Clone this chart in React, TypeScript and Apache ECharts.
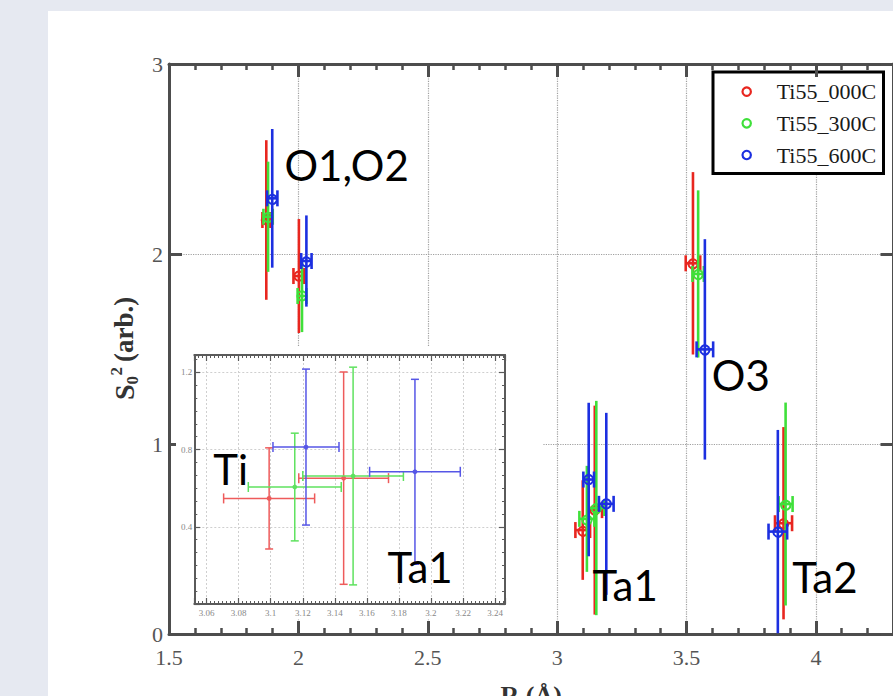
import React, { useEffect, useRef } from "react";
import * as echarts from "echarts";

// ---------------- data ----------------
const seriesNames = ["Ti55_000C", "Ti55_300C", "Ti55_600C"];
const shells = ["O1", "O2", "Ti", "Ta1", "O3", "Ta2"];

const r000 = [1.876, 2.002, 3.099, 3.1455, 3.525, 3.875];
const s000 = [2.179, 1.884, 0.547, 0.652, 1.951, 0.583];
const dr000 = [0.015, 0.021, 0.0284, 0.028, 0.028, 0.033];
const ds000 = [0.42, 0.3, 0.262, 0.55, 0.48, 0.506];

const r300 = [1.883, 2.014, 3.115, 3.1514, 3.545, 3.883];
const s300 = [2.196, 1.779, 0.606, 0.663, 1.895, 0.684];
const dr300 = [0.018, 0.017, 0.029, 0.0314, 0.022, 0.027];
const ds300 = [0.29, 0.19, 0.279, 0.564, 0.44, 0.534];

const r600 = [1.899, 2.031, 3.122, 3.19, 3.571, 3.853];
const s600 = [2.293, 1.963, 0.813, 0.685, 1.498, 0.539];
const dr600 = [0.02, 0.02, 0.0206, 0.0283, 0.032, 0.036];
const ds600 = [0.365, 0.24, 0.404, 0.479, 0.58, 0.535];

const insetShells = ["Ti", "Ta1"];

// axis ranges
const mainXRange = [1.5, 4.3];
const mainXInterval = 0.5;
const mainYRange = [0, 3];
const mainYInterval = 1;
const insetXRange = [3.0523, 3.2462];
const insetYRange = [0, 1.29];
const insetYInterval = 0.4;

// annotations (data coordinates)
const mainLabelText = ["O1,O2", "O3", "Ta1", "Ta2"];
const mainLabelR = [1.946, 3.598, 3.137, 3.909];
const mainLabelS = [2.468, 1.363, 0.259, 0.299];
const insetLabelText = ["Ti", "Ta1"];
const insetLabelR = [3.0641, 3.1728];
const insetLabelS = [0.7005, 0.19];

// ---------------- styles ----------------
const mainColors = ["#e8261f", "#3fe03a", "#1c2fe0"];
const insetColors = ["#ee5b5b", "#5fe25f", "#5656e6"];
const axisColor = "#4d4d4d";
const serif = "'Liberation Serif', 'Times New Roman', serif";

const allR = [r000, r300, r600];
const allS = [s000, s300, s600];
const allDR = [dr000, dr300, dr600];
const allDS = [ds000, ds300, ds600];

function rows(k: number, only?: string[]) {
  const out: number[][] = [];
  shells.forEach((sh, i) => {
    if (!only || only.includes(sh)) out.push([allR[k][i], allS[k][i], allDR[k][i], allDS[k][i]]);
  });
  return out;
}

const mainErr = (color: string) => (params: any, api: any) => {
  const x = api.value(0), y = api.value(1), dx = api.value(2), dy = api.value(3);
  const c = api.coord([x, y]);
  const t = api.coord([x, y + dy]);
  const b = api.coord([x, y - dy]);
  const l = api.coord([x - dx, y]);
  const r = api.coord([x + dx, y]);
  const cap = 8;
  const ls = { stroke: color, lineWidth: 2.6, fill: "none" };
  return {
    type: "group",
    children: [
      { type: "line", shape: { x1: c[0], y1: t[1], x2: c[0], y2: b[1] }, style: ls },
      { type: "line", shape: { x1: l[0], y1: c[1], x2: r[0], y2: c[1] }, style: ls },
      { type: "line", shape: { x1: l[0], y1: c[1] - cap, x2: l[0], y2: c[1] + cap }, style: ls },
      { type: "line", shape: { x1: r[0], y1: c[1] - cap, x2: r[0], y2: c[1] + cap }, style: ls },
      { type: "circle", shape: { cx: c[0], cy: c[1], r: 4.6 }, style: { fill: "none", stroke: color, lineWidth: 2 } },
    ],
  };
};

const insetErr = (color: string) => (params: any, api: any) => {
  const x = api.value(0), y = api.value(1), dx = api.value(2), dy = api.value(3);
  const c = api.coord([x, y]);
  const t = api.coord([x, y + dy]);
  const b = api.coord([x, y - dy]);
  const l = api.coord([x - dx, y]);
  const r = api.coord([x + dx, y]);
  const capV = 4;
  const capH = 5;
  const ls = { stroke: color, lineWidth: 1.5, fill: "none" };
  return {
    type: "group",
    children: [
      { type: "line", shape: { x1: c[0], y1: t[1], x2: c[0], y2: b[1] }, style: ls },
      { type: "line", shape: { x1: c[0] - capV, y1: t[1], x2: c[0] + capV, y2: t[1] }, style: ls },
      { type: "line", shape: { x1: c[0] - capV, y1: b[1], x2: c[0] + capV, y2: b[1] }, style: ls },
      { type: "line", shape: { x1: l[0], y1: c[1], x2: r[0], y2: c[1] }, style: ls },
      { type: "line", shape: { x1: l[0], y1: c[1] - capH, x2: l[0], y2: c[1] + capH }, style: ls },
      { type: "line", shape: { x1: r[0], y1: c[1] - capH, x2: r[0], y2: c[1] + capH }, style: ls },
      { type: "circle", shape: { cx: c[0], cy: c[1], r: 2.4 }, style: { fill: color, stroke: "none" } },
    ],
  };
};

function mainXAxis(pos: "bottom" | "top") {
  const bottom = pos === "bottom";
  return {
    type: "value",
    gridIndex: 0,
    position: pos,
    min: mainXRange[0],
    max: mainXRange[1],
    interval: mainXInterval,
    axisLine: { show: true, onZero: false, lineStyle: { color: axisColor, width: 3 } },
    axisTick: { show: true, inside: true, length: 13, lineStyle: { color: axisColor, width: 3 } },
    minorTick: { show: true, splitNumber: 5, length: 6, lineStyle: { color: axisColor, width: 2.5 } },
    axisLabel: bottom
      ? { show: true, margin: 12.5, fontFamily: serif, fontSize: 22, color: "#555", showMaxLabel: false }
      : { show: false },
    splitLine: bottom ? { show: true, lineStyle: { color: "#a0a0a0", type: "dotted", width: 1.2 } } : { show: false },
    name: bottom ? "R (Å)" : "",
    nameLocation: "middle",
    nameGap: 48,
    nameTextStyle: { fontFamily: serif, fontWeight: "bold", fontSize: 26, color: "#333" },
  };
}

function mainYAxis(pos: "left" | "right") {
  const left = pos === "left";
  return {
    type: "value",
    gridIndex: 0,
    position: pos,
    min: mainYRange[0],
    max: mainYRange[1],
    interval: mainYInterval,
    axisLine: { show: true, onZero: false, lineStyle: { color: axisColor, width: 3 } },
    axisTick: { show: true, inside: true, length: 13, lineStyle: { color: axisColor, width: 3 } },
    minorTick: { show: false },
    axisLabel: left ? { show: true, margin: 6, fontFamily: serif, fontSize: 22, color: "#555" } : { show: false },
    splitLine: left ? { show: true, lineStyle: { color: "#a0a0a0", type: "dotted", width: 1.2 } } : { show: false },
  };
}

const insetAxisColor = "#5a5a5a";
function insetXAxis(pos: "bottom" | "top") {
  const bottom = pos === "bottom";
  return {
    type: "value",
    gridIndex: 1,
    position: pos,
    z: 5,
    min: insetXRange[0],
    max: insetXRange[1],
    splitNumber: 10,
    axisLine: { show: true, onZero: false, lineStyle: { color: insetAxisColor, width: 2 } },
    axisTick: { show: true, inside: true, length: 6, lineStyle: { color: insetAxisColor, width: 1.2 } },
    minorTick: { show: true, splitNumber: 8, length: 3, lineStyle: { color: insetAxisColor, width: 1 } },
    axisLabel: bottom
      ? { show: true, margin: 4, fontFamily: serif, fontSize: 9, color: "#888", showMinLabel: false, showMaxLabel: false }
      : { show: false },
    splitLine: bottom ? { show: true, lineStyle: { color: "#cfcfcf", type: [2, 2], width: 1 } } : { show: false },
  };
}

function insetYAxis(pos: "left" | "right") {
  const left = pos === "left";
  return {
    type: "value",
    gridIndex: 1,
    position: pos,
    z: 5,
    min: insetYRange[0],
    max: insetYRange[1],
    interval: insetYInterval,
    axisLine: { show: true, onZero: false, lineStyle: { color: insetAxisColor, width: 2 } },
    axisTick: { show: true, inside: true, length: 6, lineStyle: { color: insetAxisColor, width: 1.2 } },
    minorTick: { show: true, splitNumber: 6, length: 3, lineStyle: { color: insetAxisColor, width: 1 } },
    axisLabel: left
      ? { show: true, margin: 2, fontFamily: serif, fontSize: 9, color: "#888", showMinLabel: false, showMaxLabel: false }
      : { show: false },
    splitLine: left ? { show: true, lineStyle: { color: "#cfcfcf", type: [2, 2], width: 1 } } : { show: false },
  };
}

// legend box drawn as graphic (serif text, hollow circle markers)
function legendBox(
  id: string,
  box: { x: number; y: number; w: number; h: number; lw: number },
  markerX: number,
  textX: number,
  rowY: number[],
  markerR: number,
  markerLW: number,
  fontSize: number,
  colors: string[],
  z: number
) {
  const children: any[] = [
    {
      type: "rect",
      shape: { x: box.x, y: box.y, width: box.w, height: box.h },
      style: { fill: "#ffffff", stroke: "#000000", lineWidth: box.lw },
    },
  ];
  seriesNames.forEach((n, k) => {
    children.push({
      type: "circle",
      shape: { cx: markerX, cy: rowY[k], r: markerR },
      style: { fill: "none", stroke: colors[k], lineWidth: markerLW },
    });
    children.push({
      type: "text",
      x: textX,
      y: rowY[k],
      style: { text: n, fontFamily: serif, fontSize, fill: "#1a1a1a", align: "left", verticalAlign: "middle" },
    });
  });
  return { type: "group", id, z, children };
}

export default function App() {
  const ref = useRef<HTMLDivElement>(null);

  useEffect(() => {
    if (!ref.current) return;
    const chart = echarts.init(ref.current, undefined, { renderer: "svg", width: 893, height: 696 });

    const option: any = {
      animation: false,
      backgroundColor: "#ffffff",
      grid: [
        { left: 169, top: 64, width: 724.5, height: 570, show: false, outerBoundsMode: "none", containLabel: false },
        { left: 194.3, top: 355, width: 310.7, height: 249, show: false, outerBoundsMode: "none", containLabel: false },
      ],
      xAxis: [mainXAxis("bottom"), mainXAxis("top"), insetXAxis("bottom"), insetXAxis("top")],
      yAxis: [mainYAxis("left"), mainYAxis("right"), insetYAxis("left"), insetYAxis("right")],
      series: [
        ...seriesNames.map((name, k) => ({
          type: "custom",
          name,
          xAxisIndex: 0,
          yAxisIndex: 0,
          z: 2,
          clip: false,
          encode: { x: 0, y: 1 },
          data: rows(k),
          renderItem: mainErr(mainColors[k]),
        })),
        ...seriesNames.map((name, k) => ({
          type: "custom",
          name,
          xAxisIndex: 2,
          yAxisIndex: 2,
          z: 6,
          clip: false,
          encode: { x: 0, y: 1 },
          data: rows(k, insetShells),
          renderItem: insetErr(insetColors[k]),
        })),
      ],
    };

    chart.setOption(option);

    const labelStyle = (t: string) => ({
      text: t,
      fontFamily: "Lato",
      fontSize: 42,
      fill: "#000000",
      align: "left",
      verticalAlign: "middle",
    });

    const mainLabels = mainLabelText.map((t, i) => {
      const p = chart.convertToPixel({ seriesIndex: 0 }, [mainLabelR[i], mainLabelS[i]]) as number[];
      return { type: "text", x: p[0], y: p[1], z: 10, style: labelStyle(t) };
    });
    const insetLabels = insetLabelText.map((t, i) => {
      const p = chart.convertToPixel({ seriesIndex: 3 }, [insetLabelR[i], insetLabelS[i]]) as number[];
      return { type: "text", x: p[0], y: p[1], z: 10, style: labelStyle(t) };
    });

    const titleFont = (size: number) => ({
      fontFamily: serif,
      fontWeight: "bold",
      fontSize: size,
      fill: "#333",
      align: "left",
      verticalAlign: "middle",
    });

    chart.setOption({
      graphic: [
        { type: "rect", id: "bgTop", z: 0, shape: { x: 0, y: 0, width: 893, height: 11 }, style: { fill: "#e6e9f1" } },
        { type: "rect", id: "bgLeft", z: 0, shape: { x: 0, y: 0, width: 48, height: 696 }, style: { fill: "#e6e9f1" } },
        { type: "rect", id: "insetBg", z: 3, shape: { x: 176, y: 347, width: 367, height: 272 }, style: { fill: "#ffffff" } },
        legendBox("mainLegend", { x: 713, y: 72, w: 170.5, h: 101.5, lw: 3 }, 746.7, 776.7, [91.7, 123.3, 155], 4.2, 2.2, 22, mainColors, 8),
        legendBox("insetLegend", { x: 426.7, y: 358, w: 76, h: 46, lw: 1.5 }, 442.3, 454, [367, 381.5, 396], 1.9, 1, 9.5, insetColors, 8),
        {
          type: "group",
          id: "yTitle",
          x: 124,
          y: 400,
          rotation: Math.PI / 2,
          z: 10,
          children: [
            { type: "text", x: 0, y: 0, style: { text: "S", ...titleFont(28) } },
            { type: "text", x: 15.6, y: 8.5, style: { text: "0", ...titleFont(17) } },
            { type: "text", x: 24.5, y: -8, style: { text: "2", ...titleFont(17) } },
            { type: "text", x: 38, y: 0, style: { text: "(arb.)", ...titleFont(27) } },
          ],
        },
        ...mainLabels,
        ...insetLabels,
      ],
    });

    return () => chart.dispose();
  }, []);

  return <div ref={ref} style={{ position: "fixed", left: 0, top: 0, width: 893, height: 696 }} />;
}
